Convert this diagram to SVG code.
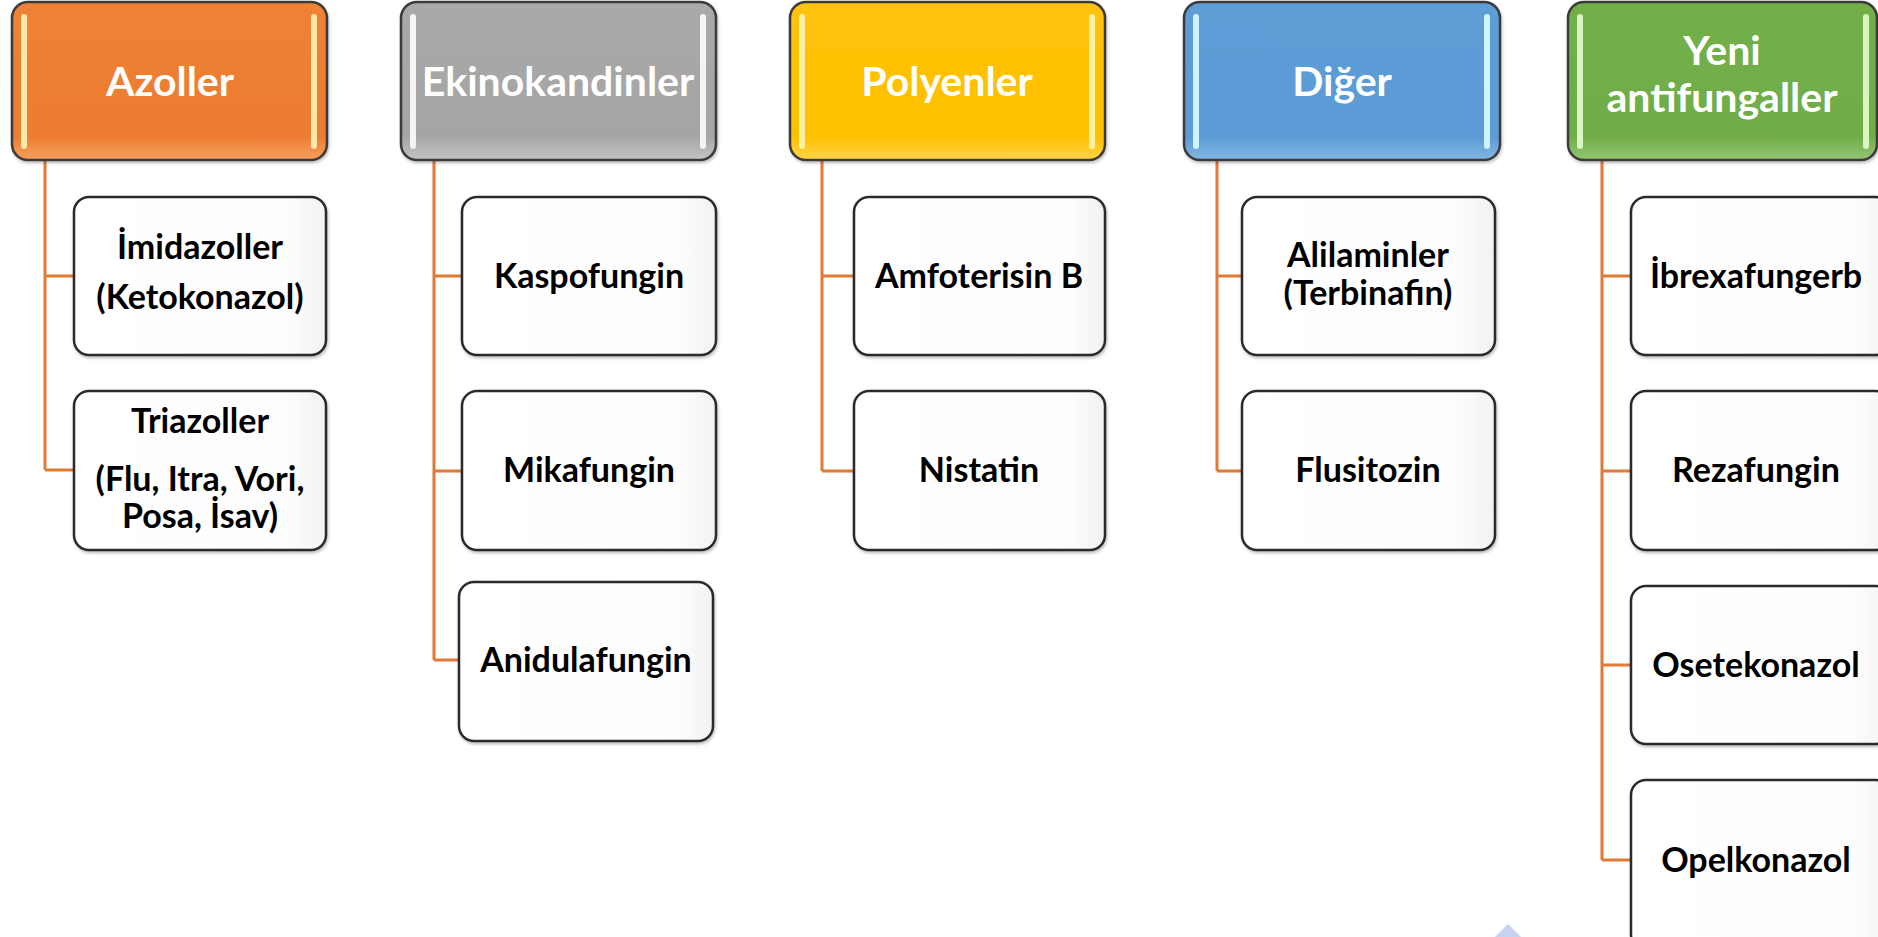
<svg xmlns="http://www.w3.org/2000/svg" width="1878" height="937" viewBox="0 0 1878 937">
<style>
.hdr{stroke:#3a3a3a;stroke-width:2.5}
.bar{stroke-width:6;stroke-linecap:round;fill:none}
.ht{font-family:Lato,"Open Sans","Liberation Sans",sans-serif;font-weight:700;font-size:41px;fill:#ffffff;text-anchor:middle}
.ch{fill:url(#gW);stroke:#2b2b2b;stroke-width:2.5}
.ct{font-family:Lato,"Open Sans","Liberation Sans",sans-serif;font-weight:700;font-size:34px;fill:#000000;text-anchor:middle}
.con{stroke:#E07A35;stroke-width:3;fill:none}
</style>
<defs>
<linearGradient id="gO" x1="0" y1="0" x2="0" y2="1"><stop offset="0" stop-color="#EE8236"/><stop offset="0.85" stop-color="#EC7C30"/><stop offset="1" stop-color="#F5A060"/></linearGradient>
<linearGradient id="gG" x1="0" y1="0" x2="0" y2="1"><stop offset="0" stop-color="#A9A9A9"/><stop offset="0.85" stop-color="#A5A5A5"/><stop offset="1" stop-color="#C4C4C4"/></linearGradient>
<linearGradient id="gY" x1="0" y1="0" x2="0" y2="1"><stop offset="0" stop-color="#FFC20A"/><stop offset="0.85" stop-color="#FFC000"/><stop offset="1" stop-color="#FFD44D"/></linearGradient>
<linearGradient id="gB" x1="0" y1="0" x2="0" y2="1"><stop offset="0" stop-color="#5E9DD6"/><stop offset="0.85" stop-color="#5B9BD5"/><stop offset="1" stop-color="#84B6E3"/></linearGradient>
<linearGradient id="gN" x1="0" y1="0" x2="0" y2="1"><stop offset="0" stop-color="#73AF4A"/><stop offset="0.85" stop-color="#70AD47"/><stop offset="1" stop-color="#94C676"/></linearGradient>
<linearGradient id="gW" x1="0" y1="0" x2="1" y2="0"><stop offset="0" stop-color="#ffffff"/><stop offset="0.85" stop-color="#fdfdfd"/><stop offset="1" stop-color="#f2f2f2"/></linearGradient>
<filter id="sh" x="-5%" y="-5%" width="110%" height="110%"><feDropShadow dx="1" dy="2" stdDeviation="1.5" flood-color="#000" flood-opacity="0.25"/></filter>
</defs>

<g id="connectors">
<path class="con" d="M45 160 V470 M45 276 H74 M45 470 H74"/>
<path class="con" d="M434 160 V660 M434 276 H462 M434 471 H462 M434 660 H459"/>
<path class="con" d="M822 160 V471 M822 276 H854 M822 471 H854"/>
<path class="con" d="M1217 160 V471 M1217 276 H1242 M1217 471 H1242"/>
<path class="con" d="M1602 160 V860 M1602 276 H1631 M1602 471 H1631 M1602 665 H1631 M1602 860 H1631"/>
</g>

<g id="h-azoller">
<rect class="hdr" x="12" y="2" width="315" height="158" rx="16" fill="url(#gO)" filter="url(#sh)"/>
<line class="bar" x1="24" y1="17" x2="24" y2="146" stroke="#FFE9A8"/>
<line class="bar" x1="314" y1="17" x2="314" y2="146" stroke="#FFE9A8"/>
<text class="ht" x="170" y="96">Azoller</text>
</g>
<g id="h-ekino">
<rect class="hdr" x="401" y="2" width="315" height="158" rx="16" fill="url(#gG)" filter="url(#sh)"/>
<line class="bar" x1="413" y1="17" x2="413" y2="146" stroke="#F4F4F4"/>
<line class="bar" x1="703" y1="17" x2="703" y2="146" stroke="#F4F4F4"/>
<text class="ht" x="558" y="96">Ekinokandinler</text>
</g>
<g id="h-poly">
<rect class="hdr" x="790" y="2" width="315" height="158" rx="16" fill="url(#gY)" filter="url(#sh)"/>
<line class="bar" x1="802" y1="17" x2="802" y2="146" stroke="#FFF0A0"/>
<line class="bar" x1="1092" y1="17" x2="1092" y2="146" stroke="#FFF0A0"/>
<text class="ht" x="947" y="96">Polyenler</text>
</g>
<g id="h-diger">
<rect class="hdr" x="1184" y="2" width="316" height="158" rx="16" fill="url(#gB)" filter="url(#sh)"/>
<line class="bar" x1="1196" y1="17" x2="1196" y2="146" stroke="#CFF3FF"/>
<line class="bar" x1="1487" y1="17" x2="1487" y2="146" stroke="#CFF3FF"/>
<text class="ht" x="1342" y="96">Diğer</text>
</g>
<g id="h-yeni">
<rect class="hdr" x="1568" y="2" width="309" height="158" rx="16" fill="url(#gN)" filter="url(#sh)"/>
<line class="bar" x1="1580" y1="17" x2="1580" y2="146" stroke="#D9F5C4"/>
<line class="bar" x1="1866" y1="17" x2="1866" y2="146" stroke="#D9F5C4"/>
<text class="ht" x="1722" y="65">Yeni</text>
<text class="ht" x="1722" y="112">antifungaller</text>
</g>

<g id="n-imidazoller">
<rect class="ch" x="74" y="197" width="252" height="158" rx="15" filter="url(#sh)"/>
<text class="ct" x="200" y="259">İmidazoller</text>
<text class="ct" x="200" y="309">(Ketokonazol)</text>
</g>
<g id="n-triazoller">
<rect class="ch" x="74" y="391" width="252" height="159" rx="15" filter="url(#sh)"/>
<text class="ct" x="200" y="433">Triazoller</text>
<text class="ct" x="200" y="491">(Flu, Itra, Vori,</text>
<text class="ct" x="200" y="528">Posa, İsav)</text>
</g>

<g id="n-kaspofungin">
<rect class="ch" x="462" y="197" width="254" height="158" rx="15" filter="url(#sh)"/>
<text class="ct" x="589" y="288">Kaspofungin</text>
</g>
<g id="n-mikafungin">
<rect class="ch" x="462" y="391" width="254" height="159" rx="15" filter="url(#sh)"/>
<text class="ct" x="589" y="482">Mikafungin</text>
</g>
<g id="n-anidulafungin">
<rect class="ch" x="459" y="582" width="254" height="159" rx="15" filter="url(#sh)"/>
<text class="ct" x="586" y="672">Anidulafungin</text>
</g>

<g id="n-amfoterisin">
<rect class="ch" x="854" y="197" width="251" height="158" rx="15" filter="url(#sh)"/>
<text class="ct" x="979" y="288">Amfoterisin B</text>
</g>
<g id="n-nistatin">
<rect class="ch" x="854" y="391" width="251" height="159" rx="15" filter="url(#sh)"/>
<text class="ct" x="979" y="482">Nistatin</text>
</g>

<g id="n-alilaminler">
<rect class="ch" x="1242" y="197" width="253" height="158" rx="15" filter="url(#sh)"/>
<text class="ct" x="1368" y="267">Alilaminler</text>
<text class="ct" x="1368" y="305">(Terbinafin)</text>
</g>
<g id="n-flusitozin">
<rect class="ch" x="1242" y="391" width="253" height="159" rx="15" filter="url(#sh)"/>
<text class="ct" x="1368" y="482">Flusitozin</text>
</g>

<g id="n-ibrexafungerb">
<rect class="ch" x="1631" y="197" width="260" height="158" rx="15" filter="url(#sh)"/>
<text class="ct" x="1756" y="288">İbrexafungerb</text>
</g>
<g id="n-rezafungin">
<rect class="ch" x="1631" y="391" width="260" height="159" rx="15" filter="url(#sh)"/>
<text class="ct" x="1756" y="482">Rezafungin</text>
</g>
<g id="n-osetekonazol">
<rect class="ch" x="1631" y="586" width="260" height="158" rx="15" filter="url(#sh)"/>
<text class="ct" x="1756" y="677">Osetekonazol</text>
</g>
<g id="n-opelkonazol">
<rect class="ch" x="1631" y="780" width="260" height="170" rx="15" filter="url(#sh)"/>
<text class="ct" x="1756" y="872">Opelkonazol</text>
</g>

<polygon points="1495,937 1508,924 1521,937" fill="#C5D3EE"/>
</svg>
